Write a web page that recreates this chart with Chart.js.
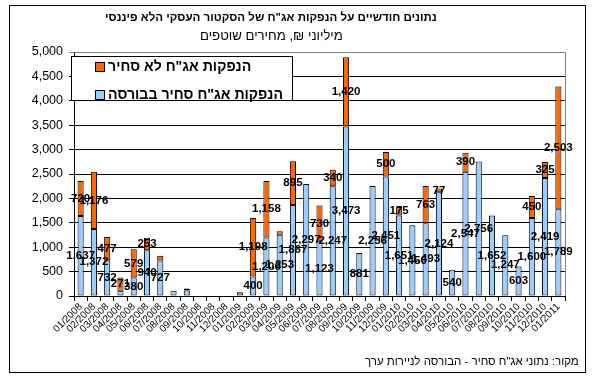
<!DOCTYPE html>
<html>
<head>
<meta charset="utf-8">
<script src="https://cdn.jsdelivr.net/npm/chart.js@4"></script>
<style>
  body { margin: 0; background: #fff; }
</style>
</head>
<body>
<canvas id="chart" width="596" height="383"></canvas>
<script>
// months 01/2008 .. 01/2011
const months = [
  '01/2008','02/2008','03/2008','04/2008','05/2008','06/2008','07/2008','08/2008','09/2008','10/2008','11/2008','12/2008',
  '01/2009','02/2009','03/2009','04/2009','05/2009','06/2009','07/2009','08/2009','09/2009','10/2009','11/2009','12/2009',
  '01/2010','02/2010','03/2010','04/2010','05/2010','06/2010','07/2010','08/2010','09/2010','10/2010','11/2010','12/2010',
  '01/2011'
];

// אג"ח סחיר בבורסה
const traded = [
  1637, 1372, 732, 110, 380, 940, 727, 110, 115, 0, 0, 0,
  0, 400, 1200, 1253, 1867, 2297, 1123, 2247, 3473, 881, 2256, 2451,
  1651, 1450, 1493, 2124, 540, 2547, 2756, 1652, 1247, 603, 1600, 2419,
  1789
];

// אג"ח לא סחיר
const nonTraded = [
  720, 1176, 477, 271, 579, 253, 100, 0, 40, 0, 0, 0,
  75, 1198, 1158, 75, 895, 0, 730, 340, 1420, 0, 0, 500,
  175, 0, 763, 77, 0, 390, 0, 0, 0, 0, 450, 325,
  2503
];

// bars whose value label is not shown in the original
const hideTradedLabel = [3, 7, 8];
const hideNonTradedLabel = [6, 8, 12, 15];

const yTicks = [0, 500, 1000, 1500, 2000, 2500, 3000, 3500, 4000, 4500, 5000];

const titleText = 'נתונים חודשיים על הנפקות אג"ח של הסקטור העסקי הלא פיננסי';
const subtitleText = 'מיליוני ₪, מחירים שוטפים';
const sourceText = 'מקור: נתוני אג"ח סחיר - הבורסה לניירות ערך';

const FONT = '"Liberation Sans", Arial, sans-serif';
const BLUE = '#99CCFF';
const ORANGE = '#FF6600';

// font size so the text gets a given width
function fitFont(c, text, weight, width) {
  c.font = weight + ' 10px ' + FONT;
  const size = Math.max(8, Math.min(16, 10 * width / c.measureText(text).width));
  c.font = weight + ' ' + size.toFixed(2) + 'px ' + FONT;
}

const extras = {
  id: 'extras',
  beforeDatasetsDraw(chart) {
    const c = chart.ctx, a = chart.chartArea;
    c.save();
    c.strokeStyle = '#808080';
    c.lineWidth = 1;
    c.beginPath();
    c.moveTo(a.left, a.top + 0.5);
    c.lineTo(a.right + 0.5, a.top + 0.5);
    c.lineTo(a.right + 0.5, a.bottom);
    c.stroke();
    c.restore();
  },
  afterDatasetsDraw(chart) {
    const c = chart.ctx;
    c.save();
    c.font = 'bold 11.5px ' + FONT;
    c.fillStyle = '#000';
    c.textAlign = 'center';
    c.textBaseline = 'middle';
    chart.data.datasets.forEach((ds, di) => {
      const hide = di === 0 ? hideTradedLabel : hideNonTradedLabel;
      chart.getDatasetMeta(di).data.forEach((bar, i) => {
        const v = ds.data[i];
        if (!v || hide.includes(i)) return;
        const mid = (bar.y + bar.base) / 2;
        c.fillText(v.toLocaleString('en-US'), bar.x, mid);
      });
    });
    c.restore();
  },
  afterDraw(chart) {
    const c = chart.ctx;
    c.save();
    c.fillStyle = '#000';
    c.textBaseline = 'middle';
    c.textAlign = 'left';

    // titles (left edge + width)
    fitFont(c, titleText, 'bold', 332);
    c.fillText(titleText, 105, 17.5);
    fitFont(c, subtitleText, 'normal', 143);
    c.fillText(subtitleText, 200, 36);
    fitFont(c, sourceText, 'normal', 214);
    c.fillText(sourceText, 365, 362);

    // outer frame
    c.strokeStyle = '#000';
    c.lineWidth = 1;
    c.strokeRect(9.5, 5.5, 576, 367);

    // legend box
    c.fillStyle = '#fff';
    c.fillRect(71, 56, 221, 44);
    c.strokeRect(71.5, 56.5, 221, 44);
    const items = [chart.data.datasets[1], chart.data.datasets[0]];
    const ys = [67, 95];
    fitFont(c, items[1].label, 'bold', 175);
    items.forEach((ds, k) => {
      c.fillStyle = ds.backgroundColor;
      c.fillRect(95, ys[k] - 5, 10, 10);
      c.strokeRect(95.5, ys[k] - 4.5, 9, 9);
      c.fillStyle = '#000';
      c.fillText(ds.label, 108, ys[k]);
    });
    c.restore();
  }
};

new Chart(document.getElementById('chart'), {
  type: 'bar',
  data: {
    labels: months,
    datasets: [
      {
        label: 'הנפקות אג"ח סחיר בבורסה',
        data: traded.map(v => v || null),
        backgroundColor: BLUE,
        borderColor: '#000',
        borderWidth: 1,
        borderSkipped: false,
        barPercentage: 0.46,
        categoryPercentage: 1
      },
      {
        label: 'הנפקות אג"ח לא סחיר',
        data: nonTraded.map(v => v || null),
        backgroundColor: ORANGE,
        borderColor: '#000',
        borderWidth: 1,
        borderSkipped: false,
        barPercentage: 0.46,
        categoryPercentage: 1
      }
    ]
  },
  options: {
    responsive: false,
    animation: false,
    layout: { padding: { top: 52, right: 31, left: 0, bottom: 0 } },
    plugins: {
      legend: { display: false },
      title: { display: false },
      tooltip: { enabled: false }
    },
    scales: {
      x: {
        stacked: true,
        grid: { drawOnChartArea: false, color: '#000', tickLength: 5 },
        border: { color: '#000' },
        ticks: {
          minRotation: 45,
          maxRotation: 45,
          autoSkip: false,
          color: '#000',
          padding: 0,
          font: { family: FONT, size: 10 }
        },
        afterFit: s => { s.height = 87; }
      },
      y: {
        stacked: true,
        min: 0,
        max: 5000,
        afterBuildTicks: s => { s.ticks = yTicks.map(v => ({ value: v })); },
        grid: {
          color: g => (g.tick && g.tick.value === 5000) ? '#808080' : '#000',
          tickLength: 5
        },
        border: { color: '#000' },
        ticks: {
          color: '#000',
          padding: 6,
          font: { family: FONT, size: 12.5 },
          callback: v => v.toLocaleString('en-US')
        },
        afterFit: s => { s.width = 74; }
      }
    }
  },
  plugins: [extras]
});
</script>
</body>
</html>
